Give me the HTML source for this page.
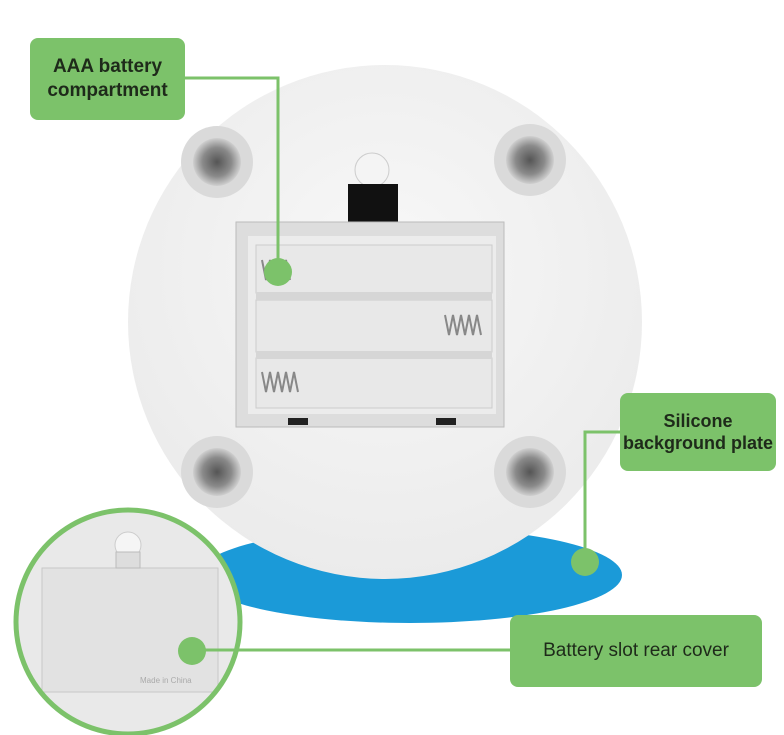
<!DOCTYPE html>
<html><head><meta charset="utf-8"><style>
body{margin:0;width:784px;height:735px;overflow:hidden;background:#fff;font-family:"Liberation Sans",sans-serif;position:relative}
.a{position:absolute}
.lbl{position:absolute;background:#7cc26a;border-radius:8px;color:#1e2a1a;font-weight:bold;display:flex;align-items:center;justify-content:center;text-align:center;line-height:1.25}
</style></head><body>
<svg class="a" style="left:0;top:0" width="784" height="735">
<defs>
<radialGradient id="g" cx="50%" cy="40%" r="60%"><stop offset="0" stop-color="#f8f8f8"/><stop offset="1" stop-color="#ebebeb"/></radialGradient>
<radialGradient id="h" cx="50%" cy="50%" r="50%"><stop offset="0" stop-color="#555"/><stop offset="0.6" stop-color="#8a8a8a"/><stop offset="1" stop-color="#d0d0d0"/></radialGradient>
<clipPath id="ic"><circle cx="128" cy="622" r="112"/></clipPath>
</defs>
<ellipse cx="410" cy="575" rx="212" ry="48" fill="#1b9ad8"/>
<circle cx="385" cy="322" r="257" fill="url(#g)"/>
<g>
<circle cx="217" cy="162" r="36" fill="#dadada"/><circle cx="217" cy="162" r="24" fill="url(#h)"/>
<circle cx="530" cy="160" r="36" fill="#dadada"/><circle cx="530" cy="160" r="24" fill="url(#h)"/>
<circle cx="217" cy="472" r="36" fill="#dadada"/><circle cx="217" cy="472" r="24" fill="url(#h)"/>
<circle cx="530" cy="472" r="36" fill="#dadada"/><circle cx="530" cy="472" r="24" fill="url(#h)"/>
</g>
<circle cx="372" cy="170" r="17" fill="#f4f4f4" stroke="#ccc"/>
<rect x="348" y="184" width="50" height="48" fill="#111"/>
<rect x="236" y="222" width="268" height="205" fill="#ddd" stroke="#bbb"/>
<rect x="248" y="236" width="248" height="178" fill="#ececec"/>
<rect x="256" y="245" width="236" height="48" fill="#e8e8e8" stroke="#ccc"/>
<rect x="256" y="300" width="236" height="52" fill="#e8e8e8" stroke="#ccc"/>
<rect x="256" y="358" width="236" height="50" fill="#e8e8e8" stroke="#ccc"/>
<rect x="256" y="292" width="236" height="8" fill="#d6d6d6"/>
<rect x="256" y="351" width="236" height="8" fill="#d6d6d6"/>
<g stroke="#888" stroke-width="2" fill="none">
<path d="M262 260 l4 20 l4 -20 l4 20 l4 -20 l4 20 l4 -20 l4 20"/>
<path d="M445 315 l4 20 l4 -20 l4 20 l4 -20 l4 20 l4 -20 l4 20 l4 -20 l4 20"/>
<path d="M262 372 l4 20 l4 -20 l4 20 l4 -20 l4 20 l4 -20 l4 20 l4 -20 l4 20"/>
</g>
<rect x="288" y="418" width="20" height="7" fill="#222"/><rect x="436" y="418" width="20" height="7" fill="#222"/>
<g clip-path="url(#ic)">
<rect x="0" y="500" width="260" height="240" fill="#e9e9e9"/>
<rect x="42" y="568" width="176" height="124" fill="#e2e2e2" stroke="#c8c8c8"/>
<circle cx="128" cy="545" r="13" fill="#f5f5f5" stroke="#ccc"/>
<rect x="116" y="552" width="24" height="16" fill="#ddd" stroke="#bbb"/>
<text x="140" y="683" font-size="8" fill="#aaa" font-family="Liberation Sans">Made in China</text>
</g>
<circle cx="128" cy="622" r="112" fill="none" stroke="#7cc26a" stroke-width="5"/>
<g stroke="#7cc26a" stroke-width="3" fill="none">
<polyline points="185,78 278,78 278,272"/>
<polyline points="622,432 585,432 585,562"/>
<polyline points="512,650 192,650"/>
</g>
<circle cx="278" cy="272" r="14" fill="#7cc26a"/>
<circle cx="585" cy="562" r="14" fill="#7cc26a"/>
<circle cx="192" cy="651" r="14" fill="#7cc26a"/>
</svg>
<div class="lbl" style="left:30px;top:38px;width:155px;height:82px;font-size:19px">AAA battery<br>compartment</div>
<div class="lbl" style="left:620px;top:393px;width:156px;height:78px;font-size:18px">Silicone<br>background plate</div>
<div class="lbl" style="left:510px;top:615px;width:252px;height:72px;font-size:19px;font-weight:normal">Battery slot rear cover</div>
</body></html>
